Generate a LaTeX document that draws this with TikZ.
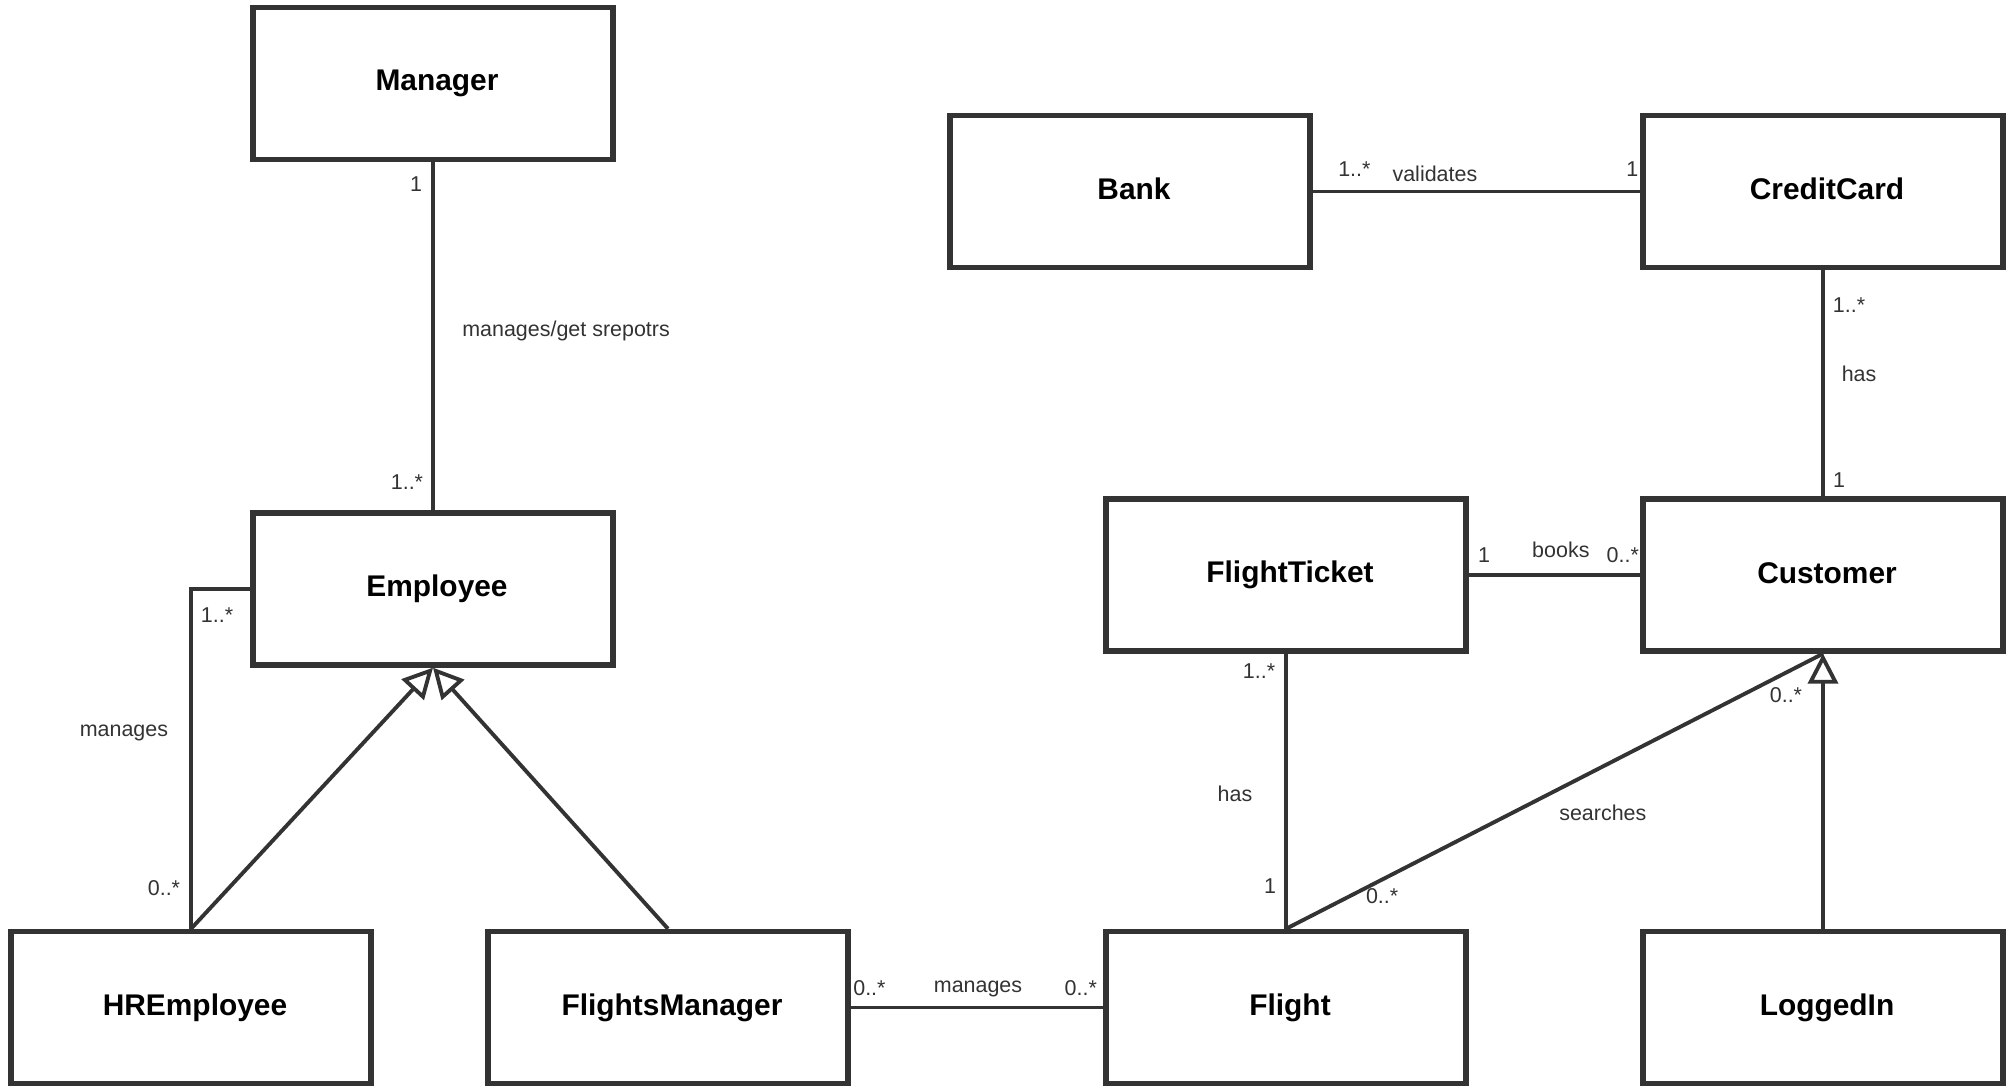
\documentclass[tikz,border=0pt]{standalone}
\usepackage{fontspec}
\setmainfont{Liberation Sans}
\usepackage{tikz}
\usetikzlibrary{arrows.meta,positioning}
\definecolor{umlline}{HTML}{333333}

\begin{document}
\begin{tikzpicture}[x=0.01cm, y=-0.01cm,
classbox/.style={rectangle, draw=umlline, line width=1.5pt, minimum width=3.6cm, minimum height=1.52cm, inner sep=0pt, font=\fontsize{8.5}{10}\selectfont\bfseries, execute at begin node=\hspace*{0.08cm}},
assoc/.style={draw=umlline, line width=1.1pt},
inherit/.style={assoc, -{Triangle[open, length=0.3cm, width=0.3cm]}},
mult/.style={text=umlline, font=\fontsize{6.1}{7}\selectfont, inner sep=0pt}
]
\fill[white] (0,0) rectangle (2009,1086);
\useasboundingbox (0,0) rectangle (2009,1086);

\node[classbox] (manager) at (433,83.5) {Manager};
\node[classbox] (employee) at (433,589) {Employee};
\node[classbox] (bank) at (1130,191.5) {\raisebox{0.05cm}{Bank}};
\node[classbox] (card) at (1823,191.5) {\raisebox{0.05cm}{CreditCard}};
\node[classbox] (ticket) at (1286,575) {FlightTicket};
\node[classbox] (customer) at (1823,575) {\raisebox{0.03cm}{Customer}};
\node[classbox] (hremp) at (191,1007.5) {HREmployee};
\node[classbox] (fmanager) at (668,1007.5) {FlightsManager};
\node[classbox] (flight) at (1286,1007.5) {Flight};
\node[classbox] (loggedin) at (1823,1007.5) {LoggedIn};

\draw[assoc] (manager) -- (employee)
    node[mult, pos=0.063, xshift=-0.17cm] {1}
    node[mult, pos=0.484, xshift=1.33cm] {manages/get srepotrs}
    node[mult, pos=0.92, xshift=-0.26cm] {1..*};
\draw[assoc] (employee.west) -| (hremp.north)
    node[mult, pos=0.539, xshift=0.26cm] {1..*}
    node[mult, pos=0.712, xshift=-0.67cm] {manages}
    node[mult, pos=0.94, xshift=-0.27cm] {0..*};
\draw[inherit] (hremp.north) -- (employee.south);
\draw[inherit] (fmanager.north) -- (employee.south);
\draw[assoc] (fmanager) -- (flight)
    node[mult, pos=0.074, yshift=0.19cm] {0..*}
    node[mult, pos=0.504, yshift=0.19cm] {manages}
    node[mult, pos=0.911, yshift=0.19cm] {0..*};
\draw[assoc] (bank) -- (card)
    node[mult, pos=0.127, yshift=0.22cm] {1..*}
    node[mult, pos=0.373, yshift=0.18cm] {validates}
    node[mult, pos=0.976, yshift=0.22cm] {1};
\draw[assoc] (card) -- (customer)
    node[mult, pos=0.153, xshift=0.26cm] {1..*}
    node[mult, pos=0.459, xshift=0.36cm] {has}
    node[mult, pos=0.93, xshift=0.16cm] {1};
\draw[assoc] (ticket) -- (customer)
    node[mult, pos=0.09, yshift=0.2cm] {1}
    node[mult, pos=0.537, yshift=0.25cm] {books}
    node[mult, pos=0.898, yshift=0.2cm] {0..*};
\draw[assoc] (ticket) -- (flight)
    node[mult, pos=0.065, xshift=-0.27cm] {1..*}
    node[mult, pos=0.509, xshift=-0.51cm] {has}
    node[mult, pos=0.846, xshift=-0.16cm] {1};
\draw[assoc] (flight.north) -- (customer.south)
    node[mult, pos=0.179, yshift=-0.17cm] {0..*}
    node[mult, pos=0.59, yshift=-0.46cm] {searches}
    node[mult, pos=0.931, yshift=-0.22cm] {0..*};
\draw[inherit] (loggedin.north) -- (customer.south);
\end{tikzpicture}
\end{document}
